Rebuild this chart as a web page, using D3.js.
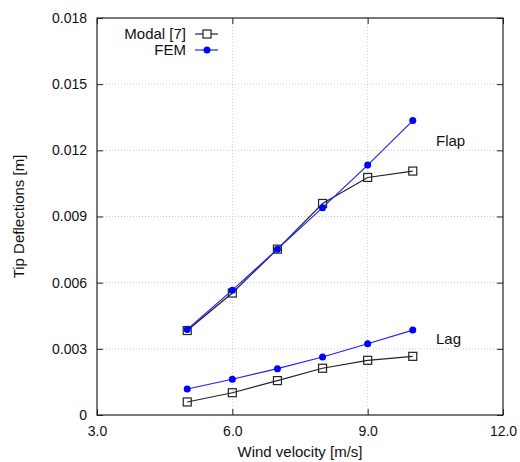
<html>
<head>
  <meta charset="utf-8">
  <style>
    body { margin: 0; background: #fff; }
    svg { font-family: "Liberation Sans", Arial, sans-serif; }
  </style>
</head>
<body>
  <svg></svg>
  <script src="https://d3js.org/d3.v7.min.js"></script>
  <script>
    // data
    let windSpeed = [5, 6, 7, 8, 9, 10];
    let modalFlap = [0.00383, 0.00553, 0.00752, 0.00959, 0.01077, 0.01106];
    let femFlap   = [0.00388, 0.00566, 0.00752, 0.00940, 0.01133, 0.01335];
    let modalLag  = [0.00059, 0.00101, 0.00156, 0.00212, 0.00248, 0.00266];
    let femLag    = [0.00118, 0.00162, 0.00210, 0.00263, 0.00323, 0.00385];
    let xTicks = [3, 6, 9, 12];
    let yTicks = [0, 0.003, 0.006, 0.009, 0.012, 0.015, 0.018];

    let width = 520, height = 462;
    let pl = 97, pr = 503, pt = 18, pb = 415;

    let svg = d3.select("svg")
        .attr("width", width)
        .attr("height", height);

    let x = d3.scaleLinear().domain([3, 12]).range([pl, pr]);
    let y = d3.scaleLinear().domain([0, 0.018]).range([pb, pt]);

    // grid
    let grid = svg.append("g").attr("stroke", "#c8c8c8").attr("stroke-dasharray", "1,2");
    grid.selectAll(".gx").data(xTicks.slice(1, -1)).enter().append("line")
        .attr("x1", d => x(d)).attr("x2", d => x(d))
        .attr("y1", pt).attr("y2", pb);
    grid.selectAll(".gy").data(yTicks.slice(1, -1)).enter().append("line")
        .attr("x1", pl).attr("x2", pr)
        .attr("y1", d => y(d)).attr("y2", d => y(d));

    // axes, gnuplot style ticks pointing in
    svg.append("g").attr("transform", "translate(0," + pb + ")")
        .call(d3.axisBottom(x).tickValues(xTicks).tickSize(-6).tickPadding(11).tickFormat(d3.format(".1f")));
    svg.append("g").attr("transform", "translate(0," + pt + ")")
        .call(d3.axisTop(x).tickValues(xTicks).tickSize(-6).tickFormat(""));
    svg.append("g").attr("transform", "translate(" + pl + ",0)")
        .call(d3.axisLeft(y).tickValues(yTicks).tickSize(-6).tickPadding(10)
          .tickFormat(d => d === 0 ? "0" : d3.format(".3f")(d)));
    svg.append("g").attr("transform", "translate(" + pr + ",0)")
        .call(d3.axisRight(y).tickValues(yTicks).tickSize(-6).tickFormat(""));

    svg.selectAll(".domain").remove();
    svg.selectAll(".tick line").attr("stroke", "#222");
    svg.selectAll(".tick text").attr("font-size", 14).attr("fill", "#111")
        .attr("font-family", "Liberation Sans, Arial, sans-serif");

    svg.append("rect")
        .attr("x", pl).attr("y", pt)
        .attr("width", pr - pl).attr("height", pb - pt)
        .attr("fill", "none").attr("stroke", "#222").attr("stroke-width", 1.2);

    // axis titles
    svg.append("text").attr("x", (pl + pr) / 2).attr("y", 457)
        .attr("text-anchor", "middle").attr("font-size", 15).attr("fill", "#111")
        .text("Wind velocity [m/s]");
    svg.append("text")
        .attr("transform", "translate(24," + ((pt + pb) / 2) + ") rotate(-90)")
        .attr("text-anchor", "middle").attr("font-size", 15).attr("fill", "#111")
        .text("Tip Deflections [m]");

    let line = d3.line().x((d, i) => x(windSpeed[i])).y(d => y(d));

    function drawModal(vals) {
      svg.append("path").datum(vals).attr("d", line)
          .attr("fill", "none").attr("stroke", "#222").attr("stroke-width", 1.2);
      svg.selectAll(null).data(vals).enter().append("rect")
          .attr("x", (d, i) => x(windSpeed[i]) - 4).attr("y", d => y(d) - 4)
          .attr("width", 8).attr("height", 8)
          .attr("fill", "none").attr("stroke", "#222").attr("stroke-width", 1.2);
    }
    function drawFem(vals) {
      svg.append("path").datum(vals).attr("d", line)
          .attr("fill", "none").attr("stroke", "#2020ff").attr("stroke-width", 1.2);
      svg.selectAll(null).data(vals).enter().append("circle")
          .attr("cx", (d, i) => x(windSpeed[i])).attr("cy", d => y(d))
          .attr("r", 3.5).attr("fill", "#0000ff");
    }
    drawModal(modalFlap);
    drawModal(modalLag);
    drawFem(femFlap);
    drawFem(femLag);

    svg.append("text").attr("x", 436).attr("y", 146).attr("font-size", 15).attr("fill", "#111").text("Flap");
    svg.append("text").attr("x", 436).attr("y", 344).attr("font-size", 15).attr("fill", "#111").text("Lag");

    // legend
    let leg = svg.append("g");
    leg.append("text").attr("x", 186).attr("y", 39).attr("text-anchor", "end")
        .attr("font-size", 15).attr("fill", "#111").text("Modal [7]");
    leg.append("line").attr("x1", 195).attr("x2", 218).attr("y1", 34).attr("y2", 34)
        .attr("stroke", "#222").attr("stroke-width", 1.2);
    leg.append("rect").attr("x", 203).attr("y", 30).attr("width", 8).attr("height", 8)
        .attr("fill", "#fff").attr("stroke", "#222").attr("stroke-width", 1.2);
    leg.append("text").attr("x", 186).attr("y", 55).attr("text-anchor", "end")
        .attr("font-size", 15).attr("fill", "#111").text("FEM");
    leg.append("line").attr("x1", 195).attr("x2", 218).attr("y1", 50).attr("y2", 50)
        .attr("stroke", "#2020ff").attr("stroke-width", 1.2);
    leg.append("circle").attr("cx", 207).attr("cy", 50).attr("r", 3.5).attr("fill", "#0000ff");
  </script>
</body>
</html>
